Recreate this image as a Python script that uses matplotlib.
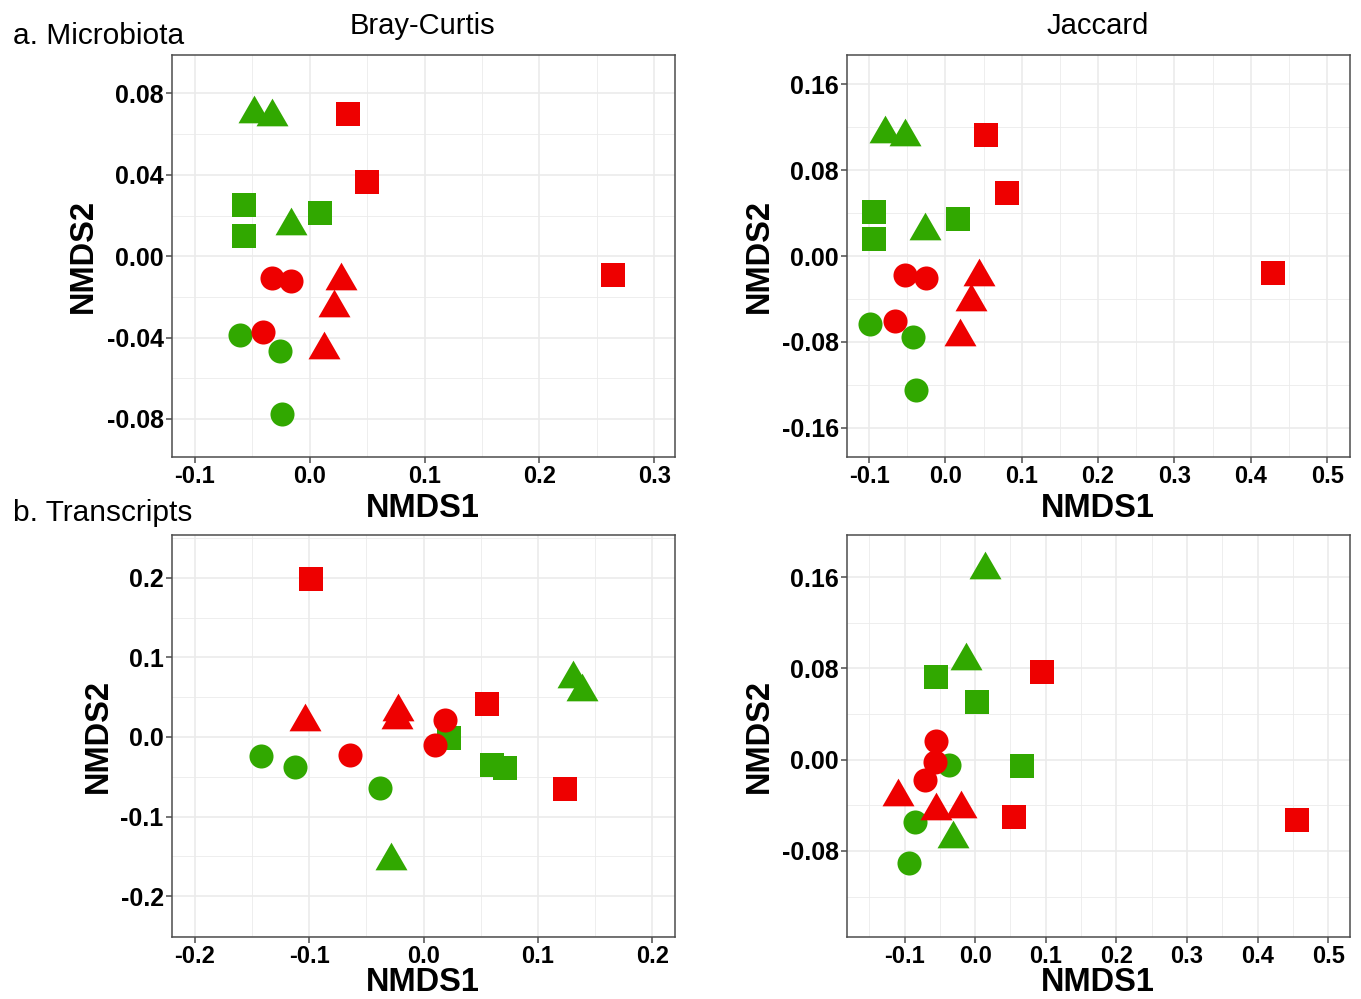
import matplotlib
matplotlib.use("Agg")
import matplotlib.pyplot as plt
from matplotlib.ticker import MultipleLocator, FuncFormatter
from matplotlib.path import Path

plt.rcParams['font.family'] = ['Liberation Sans', 'DejaVu Sans']
plt.rcParams['axes.unicode_minus'] = False

# groupes : couleur x forme, 3 echantillons chacun
point_colour = ["green"] * 9 + ["red"] * 9
point_shape = (["circle"] * 3 + ["square"] * 3 + ["triangle"] * 3) * 2

# a. Microbiota - Bray-Curtis
micro_bray_x = [-0.061, -0.026, -0.024, -0.057, -0.057, 0.009, -0.0485, -0.033, -0.0165,
                -0.033, -0.016, -0.041, 0.033, 0.050, 0.264, 0.027, 0.021, 0.012]
micro_bray_y = [-0.0389, -0.0467, -0.0774, 0.0254, 0.0098, 0.0211, 0.0725, 0.0710, 0.0172,
                -0.0105, -0.0123, -0.0372, 0.0697, 0.0364, -0.0093, -0.0095, -0.0228, -0.0438]

# a. Microbiota - Jaccard
micro_jac_x = [-0.099, -0.042, -0.039, -0.093, -0.093, 0.016, -0.0786, -0.0536, -0.0273,
               -0.0536, -0.0256, -0.0667, 0.053, 0.081, 0.429, 0.044, 0.034, 0.019]
micro_jac_y = [-0.0628, -0.0758, -0.125, 0.0409, 0.0161, 0.034, 0.118, 0.115, 0.0282,
               -0.0176, -0.0201, -0.0604, 0.113, 0.0588, -0.0155, -0.0149, -0.0384, -0.0709]

# b. Transcripts - Bray-Curtis
trans_bray_x = [-0.142, -0.112, -0.038, 0.022, 0.060, 0.071, 0.131, 0.139, -0.0285,
                0.0185, 0.0104, -0.0646, -0.0988, 0.0558, 0.1235, -0.1035, -0.0227, -0.0235]
trans_bray_y = [-0.0243, -0.0372, -0.0644, -0.0013, -0.0347, -0.0389, 0.0787, 0.0623, -0.150,
                0.0218, -0.0096, -0.0226, 0.199, 0.0414, -0.0653, 0.025, 0.0377, 0.0272]

# b. Transcripts - Jaccard
trans_jac_x = [-0.037, -0.0846, -0.0938, -0.0556, 0.0031, 0.0667, 0.0136, -0.0136, -0.032,
               -0.055, -0.0568, -0.071, 0.095, 0.055, 0.4556, -0.109, -0.0556, -0.0198]
trans_jac_y = [-0.0044, -0.0548, -0.0904, 0.0729, 0.0502, -0.0058, 0.171, 0.0913, -0.0653,
               0.016, -0.002, -0.018, 0.077, -0.0505, -0.0531, -0.0283, -0.0408, -0.0388]

colours = {"green": "#31A800", "red": "#EE0000"}
tri = Path([(-1, -0.866), (1, -0.866), (0, 0.866), (-1, -0.866)],
           [Path.MOVETO, Path.LINETO, Path.LINETO, Path.CLOSEPOLY])
markers = {"circle": ("o", 300), "square": ("s", 310), "triangle": (tri, 530)}

W, H = 1361, 999
fig = plt.figure(figsize=(W / 100, H / 100), dpi=100)


def panel(left, top, xs, ys, xlim, ylim, xmaj, xmin, ymaj, ymin, ydec):
    ax = fig.add_axes([left / W, 1 - (top + 402) / H, 503 / W, 402 / H])
    for col in ["green", "red"]:
        for shp in ["circle", "square", "triangle"]:
            idx = [i for i in range(len(xs)) if point_colour[i] == col and point_shape[i] == shp]
            m, s = markers[shp]
            ax.scatter([xs[i] for i in idx], [ys[i] for i in idx], marker=m, s=s,
                       color=colours[col], linewidths=0, zorder=3)
    ax.set_xlim(xlim)
    ax.set_ylim(ylim)
    ax.xaxis.set_major_locator(MultipleLocator(xmaj))
    ax.xaxis.set_minor_locator(MultipleLocator(xmin))
    ax.yaxis.set_major_locator(MultipleLocator(ymaj))
    ax.yaxis.set_minor_locator(MultipleLocator(ymin))
    ax.xaxis.set_major_formatter(FuncFormatter(lambda v, p: f"{round(v, 1) + 0.0:.1f}"))
    ax.yaxis.set_major_formatter(FuncFormatter(lambda v, p: f"{round(v, ydec) + 0.0:.{ydec}f}"))
    ax.grid(which="major", color="#EBEBEB", lw=1.2, zorder=0)
    ax.grid(which="minor", color="#EBEBEB", lw=0.6, zorder=0)
    ax.set_axisbelow(True)
    for sp in ax.spines.values():
        sp.set_color("#4D4D4D")
        sp.set_linewidth(1.1)
    ax.tick_params(which="major", length=4, width=1.1, color="#4D4D4D", pad=2)
    ax.tick_params(which="minor", length=0)
    ax.tick_params(axis="x", labelsize=17)
    ax.tick_params(axis="y", labelsize=18)
    for lab in ax.get_xticklabels() + ax.get_yticklabels():
        lab.set_fontweight("bold")
    return ax


panel(172, 55, micro_bray_x, micro_bray_y, (-0.12, 0.318), (-0.0987, 0.0989),
      0.1, 0.05, 0.04, 0.02, 2)
panel(847, 55, micro_jac_x, micro_jac_y, (-0.129, 0.530), (-0.187, 0.187),
      0.1, 0.05, 0.08, 0.04, 2)
panel(172, 535, trans_bray_x, trans_bray_y, (-0.22, 0.22), (-0.2515, 0.254),
      0.1, 0.05, 0.1, 0.05, 1)
panel(847, 535, trans_jac_x, trans_jac_y, (-0.1815, 0.531), (-0.1554, 0.197),
      0.1, 0.05, 0.08, 0.04, 2)

# titres et etiquettes
fig.text(13 / W, 1 - 44 / H, "a. Microbiota", fontsize=21.5, va="baseline", ha="left")
fig.text(13 / W, 1 - 521 / H, "b. Transcripts", fontsize=21.5, va="baseline", ha="left")
fig.text(422 / W, 1 - 34 / H, "Bray-Curtis", fontsize=21, va="baseline", ha="center")
fig.text(1098 / W, 1 - 34 / H, "Jaccard", fontsize=21, va="baseline", ha="center")

for cx, by in [(423, 517), (1098, 517), (423, 991), (1098, 991)]:
    fig.text(cx / W, 1 - by / H, "NMDS1", fontsize=23.5, fontweight="bold",
             va="baseline", ha="center")
for cx, cy in [(83, 256), (759, 256), (98, 736), (759, 736)]:
    fig.text(cx / W, 1 - cy / H, "NMDS2", fontsize=23.5, fontweight="bold",
             rotation=90, va="center", ha="center")

fig.savefig("out.png", dpi=100, facecolor="white")
